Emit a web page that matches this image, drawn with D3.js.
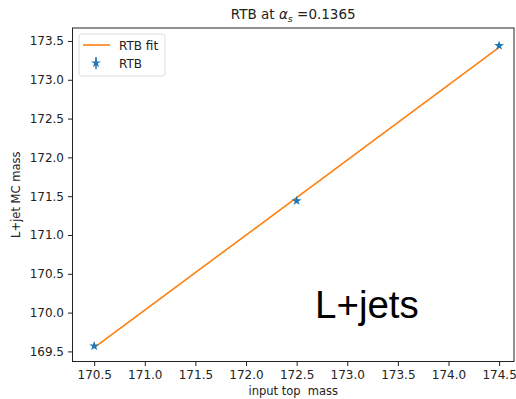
<!DOCTYPE html>
<html><head><meta charset="utf-8">
<script src="https://cdn.jsdelivr.net/npm/d3@7"></script>
<style>body{margin:0;background:#fff}svg{display:block}</style>
</head><body>
<svg id="c" width="516" height="399" font-family="DejaVu Sans, sans-serif"></svg>
<script>
const inputMass = [170.5, 172.5, 174.5];
const mcMass = [169.57, 171.44, 173.44];
const mcErr = [0.03, 0.03, 0.03];
const fitX = [170.5, 174.5];
const fitY = [169.548, 173.418];
const xTicks = [170.5, 171.0, 171.5, 172.0, 172.5, 173.0, 173.5, 174.0, 174.5];
const yTicks = [169.5, 170.0, 170.5, 171.0, 171.5, 172.0, 172.5, 173.0, 173.5];

const svg = d3.select("#c");
const L = 72.5, R = 514, T = 28, B = 361.5;
const x = d3.scaleLinear().domain([170.286, 174.647]).range([L, R]);
const y = d3.scaleLinear().domain([169.37, 173.667]).range([B, T]);
const blue = "#1f77b4", orange = "#ff7f0e";

// fit line
svg.append("path").datum(fitX.map((v, i) => [v, fitY[i]]))
  .attr("d", d3.line().x(d => x(d[0])).y(d => y(d[1])))
  .attr("stroke", orange).attr("stroke-width", 1.6).attr("fill", "none");

// error bars + stars
const star = d3.symbol().type(d3.symbolStar).size(30);
inputMass.forEach((v, i) => {
  svg.append("line").attr("x1", x(v)).attr("x2", x(v))
    .attr("y1", y(mcMass[i] - mcErr[i])).attr("y2", y(mcMass[i] + mcErr[i]))
    .attr("stroke", blue).attr("stroke-width", 1.5);
  svg.append("path").attr("d", star()).attr("fill", blue)
    .attr("transform", `translate(${x(v)},${y(mcMass[i])})`);
});

// axes
const xa = svg.append("g").attr("transform", `translate(0,${B})`)
  .call(d3.axisBottom(x).tickValues(xTicks).tickFormat(d3.format(".1f")).tickSize(4.5).tickPadding(4));
const ya = svg.append("g").attr("transform", `translate(${L},0)`)
  .call(d3.axisLeft(y).tickValues(yTicks).tickFormat(d3.format(".1f")).tickSize(4.5).tickPadding(4));
[xa, ya].forEach(g => {
  g.select(".domain").remove();
  g.attr("font-family", "DejaVu Sans, sans-serif");
  g.selectAll("text").attr("font-size", 12).attr("fill", "#222");
  g.selectAll("line").attr("stroke", "#222");
});
svg.append("rect").attr("x", L).attr("y", T).attr("width", R - L).attr("height", B - T)
  .attr("fill", "none").attr("stroke", "#222").attr("stroke-width", 1);

// title
const title = svg.append("text").attr("x", (L + R) / 2).attr("y", 19).attr("text-anchor", "middle")
  .attr("font-size", 13.5).attr("fill", "#222");
title.append("tspan").text("RTB at ");
title.append("tspan").attr("font-style", "italic").text("α");
title.append("tspan").attr("font-style", "italic").attr("font-size", 9.5).attr("dy", 3).text("s");
title.append("tspan").attr("dy", -3).text(" =0.1365");

// axis labels
svg.append("text").attr("x", (L + R) / 2).attr("y", 395).attr("text-anchor", "middle")
  .style("white-space", "pre")
  .attr("font-size", 11.5).attr("fill", "#222").text("input top\u00a0\u00a0mass");
svg.append("text").attr("transform", `translate(20,${(T + B) / 2}) rotate(-90)`)
  .attr("text-anchor", "middle").attr("font-size", 11.5).attr("fill", "#222").text("L+jet MC mass");

// legend
const lg = svg.append("g");
lg.append("rect").attr("x", 79).attr("y", 34).attr("width", 86).attr("height", 42).attr("rx", 3)
  .attr("fill", "#fff").attr("fill-opacity", 0.8).attr("stroke", "#ddd");
lg.append("line").attr("x1", 83).attr("x2", 110).attr("y1", 45).attr("y2", 45)
  .attr("stroke", orange).attr("stroke-width", 1.6);
lg.append("text").attr("x", 119).attr("y", 49.5).attr("font-size", 12).attr("fill", "#222").text("RTB fit");
lg.append("line").attr("x1", 96).attr("x2", 96).attr("y1", 57).attr("y2", 69)
  .attr("stroke", blue).attr("stroke-width", 1.5);
lg.append("path").attr("d", star()).attr("fill", blue).attr("transform", "translate(96,63)");
lg.append("text").attr("x", 119).attr("y", 67.5).attr("font-size", 12).attr("fill", "#222").text("RTB");

// annotation
svg.append("text").attr("x", 315).attr("y", 318).attr("font-family", "Liberation Sans, Arial, sans-serif")
  .attr("font-size", 38.5).attr("fill", "#000").text("L+jets");
</script>
</body></html>
